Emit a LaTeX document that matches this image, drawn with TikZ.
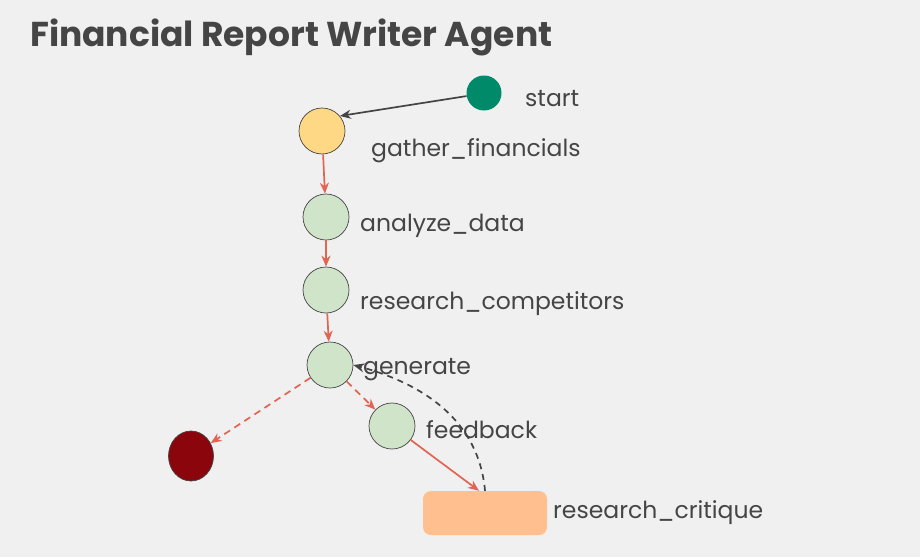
\documentclass[tikz,border=0pt]{standalone}
\usepackage{fontspec}
\setmainfont{Poppins}
\usetikzlibrary{arrows.meta, shapes.geometric}
\definecolor{bgGray}{HTML}{F0F0F0}
\definecolor{textGray}{HTML}{454545}
\definecolor{lineGray}{HTML}{444444}
\definecolor{startGreen}{HTML}{008A6A}
\definecolor{gatherYellow}{HTML}{FFD885}
\definecolor{stepGreen}{HTML}{D0E4CA}
\definecolor{endRed}{HTML}{8A060C}
\definecolor{critiqueOrange}{HTML}{FFBF8F}
\definecolor{edgeRed}{HTML}{E26452}

\begin{document}
\begin{tikzpicture}[x=1pt, y=-1pt,
	stepnode/.style={circle, draw=lineGray, line width=0.7pt, fill=stepGreen, minimum size=46pt, inner sep=0pt},
	lbl/.style={anchor=base west, text=textGray, font=\fontsize{23.5}{23.5}\selectfont, inner sep=0pt},
	flow/.style={draw=edgeRed, line width=1.7pt, -{Stealth[length=11pt, width=9pt]}},
	flowdash/.style={flow, dash pattern={on 7pt off 5pt}},
	back/.style={draw=lineGray, line width=1.7pt, -{Stealth[length=11pt, width=9pt]}}]
	% Background and frame:
	\fill[bgGray] (0, 0) rectangle (920, 557);
	\useasboundingbox (0, 0) rectangle (920, 557);
	\node[anchor=base west, text=textGray, inner sep=0pt, font=\fontsize{34.5}{34.5}\selectfont\bfseries] (title) at (30, 46) {Financial Report Writer Agent};
	% Nodes:
	\node[circle, fill=startGreen, minimum size=35pt, inner sep=0pt] (start) at (484, 93) {};
	\node[stepnode, fill=gatherYellow] (gather) at (322, 131) {};
	\node[stepnode] (analyze) at (326, 217) {};
	\node[stepnode] (competitors) at (326, 290) {};
	\node[stepnode] (generate) at (330, 365) {};
	\node[stepnode] (feedback) at (392, 426) {};
	\node[ellipse, draw=lineGray, line width=0.7pt, fill=endRed, minimum width=45pt, minimum height=50pt, inner sep=0pt] (end) at (191, 456) {};
	\node[rectangle, rounded corners=8pt, fill=critiqueOrange, minimum width=124pt, minimum height=44pt] (critique) at (485, 513) {};
	% Labels:
	\node[lbl] (start-l) at (525, 106) {start};
	\node[lbl] (gather-l) at (371, 156) {gather\_financials};
	\node[lbl] (analyze-l) at (360, 231) {analyze\_data};
	\node[lbl] (competitors-l) at (360, 309) {research\_competitors};
	\node[lbl] (generate-l) at (363, 374) {generate};
	\node[lbl] (feedback-l) at (426, 438) {feedback};
	\node[lbl] (critique-l) at (553, 518) {research\_critique};
	% Edges:
	\draw[back] (start.190) -- (gather.40);
	\draw[flow] (gather) -- (analyze);
	\draw[flow] (analyze) -- (competitors);
	\draw[flow] (competitors) -- (generate);
	\draw[flowdash] (generate) -- (end);
	\draw[flowdash] (generate) -- (feedback);
	\draw[flow] (feedback) -- ([xshift=-6pt]critique.north);
	\draw[back, dash pattern={on 6pt off 5pt}] (critique.north) to[out=95, in=-15] (generate.east);
\end{tikzpicture}
\end{document}
